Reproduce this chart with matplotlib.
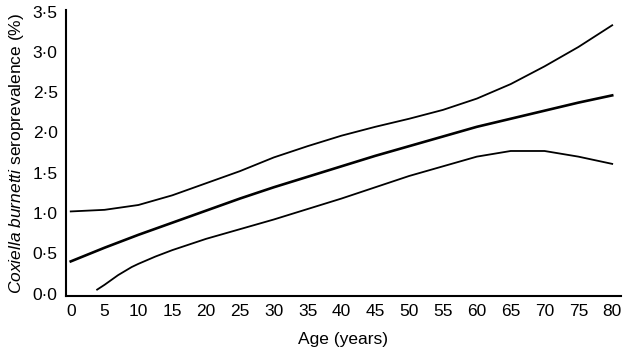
import matplotlib
matplotlib.use("Agg")
import matplotlib.pyplot as plt
from matplotlib.ticker import FuncFormatter

plt.rcParams["font.family"] = ["Liberation Sans", "DejaVu Sans"]
plt.rcParams["mathtext.fontset"] = "custom"
plt.rcParams["mathtext.it"] = "Liberation Sans:italic"
plt.rcParams["mathtext.rm"] = "Liberation Sans"

# values
age = [0, 5, 10, 15, 20, 25, 30, 35, 40, 45, 50, 55, 60, 65, 70, 75, 80]
estimate = [0.40, 0.57, 0.73, 0.88, 1.03, 1.18, 1.32, 1.45, 1.58, 1.71, 1.83, 1.95,
            2.07, 2.17, 2.27, 2.37, 2.46]
upper = [1.02, 1.04, 1.10, 1.22, 1.37, 1.52, 1.69, 1.83, 1.96, 2.07, 2.17, 2.28,
         2.42, 2.60, 2.82, 3.06, 3.33]
lower_age = [3.9, 5, 6, 7, 8, 9, 10, 12.5, 15, 17.5, 20, 25, 30, 35, 40, 45, 50, 55,
             60, 65, 70, 75, 80]
lower = [0.05, 0.11, 0.17, 0.23, 0.28, 0.33, 0.37, 0.46, 0.54, 0.61, 0.68, 0.80,
         0.92, 1.05, 1.18, 1.32, 1.46, 1.58, 1.70, 1.77, 1.77, 1.70, 1.61]

x_ticks = list(range(0, 81, 5))
y_ticks = [0.0, 0.5, 1.0, 1.5, 2.0, 2.5, 3.0, 3.5]

fig = plt.figure(figsize=(6.25, 3.55), dpi=100)
ax = fig.add_axes([0.1056, 0.166, 0.888, 0.806])

ax.plot(age, estimate, color="black", lw=1.9)
ax.plot(age, upper, color="black", lw=1.3)
ax.plot(lower_age, lower, color="black", lw=1.3)

ax.set_xlim(-0.7, 81.3)
ax.set_ylim(-0.03, 3.52)
ax.set_xticks(x_ticks)
ax.set_yticks(y_ticks)
ax.yaxis.set_major_formatter(FuncFormatter(lambda v, p: f"{v:.1f}".replace(".", "\u00b7")))
ax.tick_params(length=0, labelsize=12.5, pad=6)
ax.spines["top"].set_visible(False)
ax.spines["right"].set_visible(False)
ax.spines["left"].set_linewidth(1.5)
ax.spines["bottom"].set_linewidth(1.5)

ax.set_xlabel("Age (years)", fontsize=12.5, labelpad=9)
ax.set_ylabel(r"$\it{Coxiella\ burnetti}$ seroprevalence (%)", fontsize=12.5, labelpad=5)

fig.savefig("out.png", dpi=100)
